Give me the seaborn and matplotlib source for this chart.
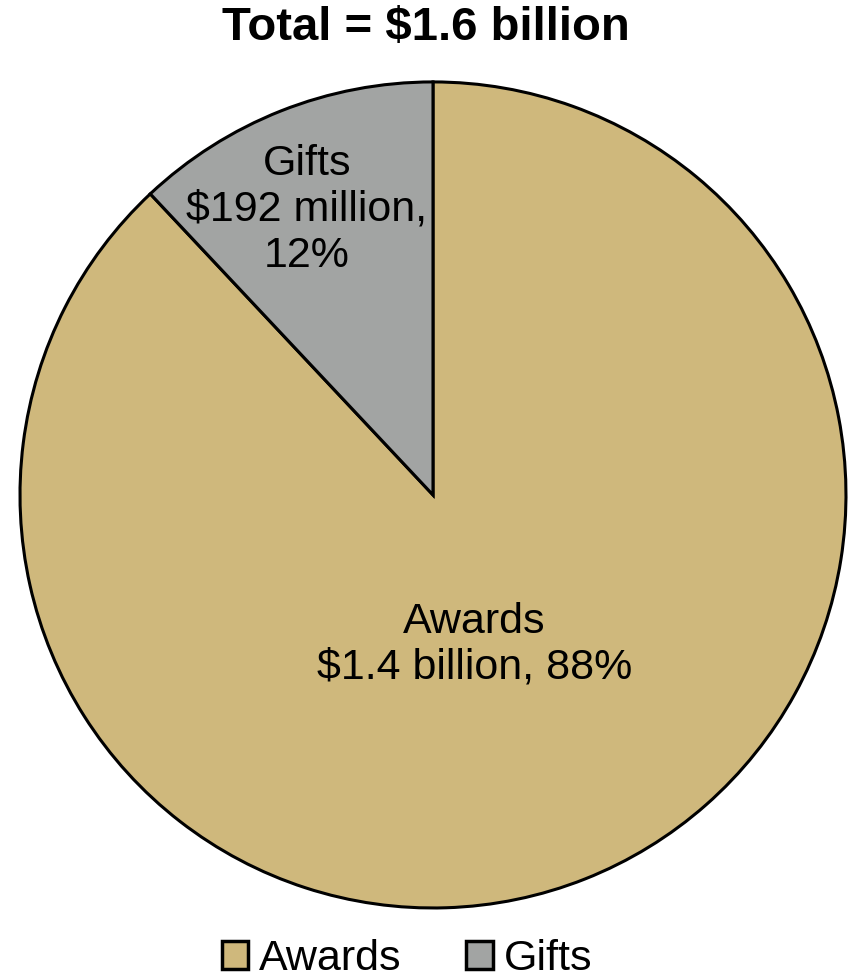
import seaborn as sns
import matplotlib.pyplot as plt

# data
categories = ["Awards", "Gifts"]
values = [1.408, 0.192]          # $ billion
share = [88, 12]
value_text = ["$1.4 billion", "$192 million"]
colors = ["#CFB87C", "#A2A4A3"]

sns.set_theme(style="white")
plt.rcParams['font.family'] = ['Liberation Sans', 'DejaVu Sans']
plt.rcParams['text.color'] = 'black'

fig = plt.figure(figsize=(8.51, 9.80), dpi=100)
ax = fig.add_axes([0.0235, 0.0735, 0.9706, 0.8429])

wedges, _ = ax.pie(values, colors=colors, startangle=90, counterclock=False,
                   wedgeprops=dict(edgecolor="black", linewidth=2.2))
ax.set_xlim(-1, 1)
ax.set_ylim(-1, 1)
ax.set_aspect("auto")

ax.text(0.10, -0.363, f"{categories[0]}\n{value_text[0]}, {share[0]}%",
        ha="center", va="center", fontsize=31, linespacing=1.2)
ax.text(-0.305, 0.69, f"{categories[1]}\n{value_text[1]},\n{share[1]}%",
        ha="center", va="center", fontsize=31, linespacing=1.2)

fig.suptitle("Total = $1.6 billion", x=0.5, y=0.971, va="center",
             fontsize=34, fontweight="bold")

fig.legend(wedges, categories, loc="center", bbox_to_anchor=(0.478, 0.021),
           ncol=2, frameon=False, fontsize=31, handlelength=0.62,
           handleheight=0.62, handletextpad=0.25, columnspacing=1.5)
for h in fig.legends[0].legend_handles:
    h.set_edgecolor("black")
    h.set_linewidth(2.5)

fig.savefig("out.png", dpi=100)
